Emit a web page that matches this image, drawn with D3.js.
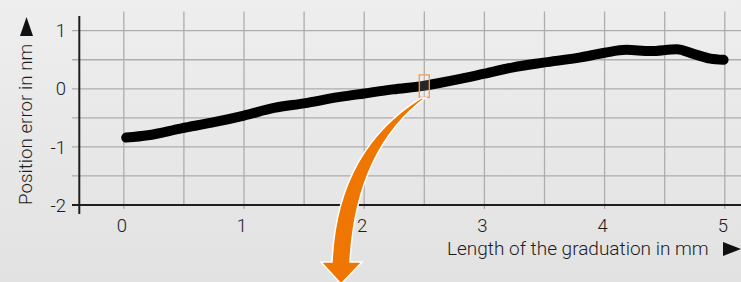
<!DOCTYPE html>
<html>
<head>
<meta charset="utf-8">
<script src="https://cdn.jsdelivr.net/npm/d3@7"></script>
<style>
  html, body { margin: 0; padding: 0; background: #e8e8e8; }
  svg { display: block; }
  text { font-family: Roboto, "Liberation Sans", sans-serif; font-weight: 300; fill: #1c1c1c; }
</style>
</head>
<body>
<script>
// measured position error along the graduation (mm -> nm)
var lengthMm = [0.02, 0.2, 0.48, 0.76, 1.0, 1.25, 1.5, 1.8, 2.0, 2.24, 2.49, 2.8, 3.0, 3.24, 3.49, 3.8, 4.0, 4.18, 4.38, 4.6, 4.74, 4.88, 4.99];
var errorNm  = [-0.84, -0.80, -0.68, -0.57, -0.46, -0.33, -0.25, -0.14, -0.08, -0.01, 0.05, 0.17, 0.26, 0.37, 0.45, 0.54, 0.62, 0.67, 0.65, 0.68, 0.60, 0.52, 0.50];

var xTicks = [0, 1, 2, 3, 4, 5];
var yTicks = [-2, -1, 0, 1];
var xGrid = [0, 0.5, 1, 1.5, 2, 2.5, 3, 3.5, 4, 4.5, 5];
var yGrid = [-1.5, -1, -0.5, 0, 0.5, 1];

var width = 741, height = 282;

var x = d3.scaleLinear().domain([0, 5]).range([123.8, 724.8]);
var y = d3.scaleLinear().domain([-2, 1]).range([205, 30.7]);

var svg = d3.select('body')
    .append('svg')
    .attr('width', width)
    .attr('height', height);

var defs = svg.append('defs');
var bg = defs.append('linearGradient')
    .attr('id', 'bg')
    .attr('x1', 0).attr('y1', 0)
    .attr('x2', 0).attr('y2', 1);
bg.append('stop').attr('offset', '0%').attr('stop-color', '#eeeeee');
bg.append('stop').attr('offset', '100%').attr('stop-color', '#e2e2e2');

svg.append('rect')
    .attr('width', width)
    .attr('height', height)
    .attr('fill', 'url(#bg)');

// grid
svg.append('g')
    .selectAll('line')
    .data(xGrid)
    .join('line')
    .attr('x1', function(d) { return x(d); })
    .attr('x2', function(d) { return x(d); })
    .attr('y1', 11.5)
    .attr('y2', function(d) { return d % 1 === 0 ? y(-2) + 4 : y(-2); })
    .attr('stroke', '#adadad')
    .attr('stroke-width', 1.3);

svg.append('g')
    .selectAll('line')
    .data(yGrid)
    .join('line')
    .attr('x1', 72)
    .attr('x2', width)
    .attr('y1', function(d) { return y(d); })
    .attr('y2', function(d) { return y(d); })
    .attr('stroke', '#adadad')
    .attr('stroke-width', 1.3);

// axes
svg.append('line')
    .attr('x1', 72).attr('x2', width)
    .attr('y1', y(-2)).attr('y2', y(-2))
    .attr('stroke', '#1e1e1e')
    .attr('stroke-width', 2);

svg.append('line')
    .attr('x1', 79.3).attr('x2', 79.3)
    .attr('y1', 16).attr('y2', 214)
    .attr('stroke', '#1e1e1e')
    .attr('stroke-width', 2);

// tick labels
svg.append('g')
    .selectAll('text')
    .data(yTicks)
    .join('text')
    .attr('x', 66)
    .attr('y', function(d) { return y(d); })
    .attr('dy', '0.36em')
    .attr('font-size', 18.5)
    .style('text-anchor', 'end')
    .text(function(d) { return d; });

svg.append('g')
    .selectAll('text')
    .data(xTicks)
    .join('text')
    .attr('x', function(d) { return x(d) - 2; })
    .attr('y', 225)
    .attr('dy', '0.36em')
    .attr('font-size', 18.5)
    .style('text-anchor', 'middle')
    .text(function(d) { return d; });

// axis titles
svg.append('text')
    .attr('x', 447)
    .attr('y', 255)
    .attr('font-size', 19)
    .text('Length of the graduation in mm');

svg.append('path')
    .attr('d', 'M723,242 L741,249 L723,256 Z')
    .attr('fill', '#111');

svg.append('text')
    .attr('transform', 'translate(32,205) rotate(-90)')
    .attr('font-size', 18.8)
    .text('Position error in nm');

svg.append('path')
    .attr('d', 'M20,36 L26.5,17 L33,36 Z')
    .attr('fill', '#111');

// data
var line = d3.line()
    .x(function(d, i) { return x(lengthMm[i]); })
    .y(function(d) { return y(d); })
    .curve(d3.curveMonotoneX);

svg.append('path')
    .attr('d', line(errorNm))
    .attr('fill', 'none')
    .attr('stroke', '#000')
    .attr('stroke-width', 10)
    .attr('stroke-linecap', 'round')
    .attr('stroke-linejoin', 'round');

// zoom box and arrow
var bx = x(2.5), by = y(0.05);
svg.append('rect')
    .attr('x', bx - 5)
    .attr('y', by - 11)
    .attr('width', 10)
    .attr('height', 22.5)
    .attr('fill', 'rgba(255,255,255,0.15)')
    .attr('stroke', '#f39a4e')
    .attr('stroke-width', 1.3);

var arrow = d3.path();
arrow.moveTo(bx - 3, by + 12);
arrow.quadraticCurveTo(337, 150, 332, 262);
arrow.lineTo(321, 262);
arrow.lineTo(341, 284);
arrow.lineTo(362, 262);
arrow.lineTo(350, 262);
arrow.quadraticCurveTo(356, 150, bx + 1, by + 12);
arrow.closePath();

svg.append('path')
    .attr('d', arrow.toString())
    .attr('fill', '#ef7600')
    .attr('stroke', '#fff')
    .attr('stroke-width', 1.5)
    .attr('stroke-linejoin', 'miter');
</script>
</body>
</html>
